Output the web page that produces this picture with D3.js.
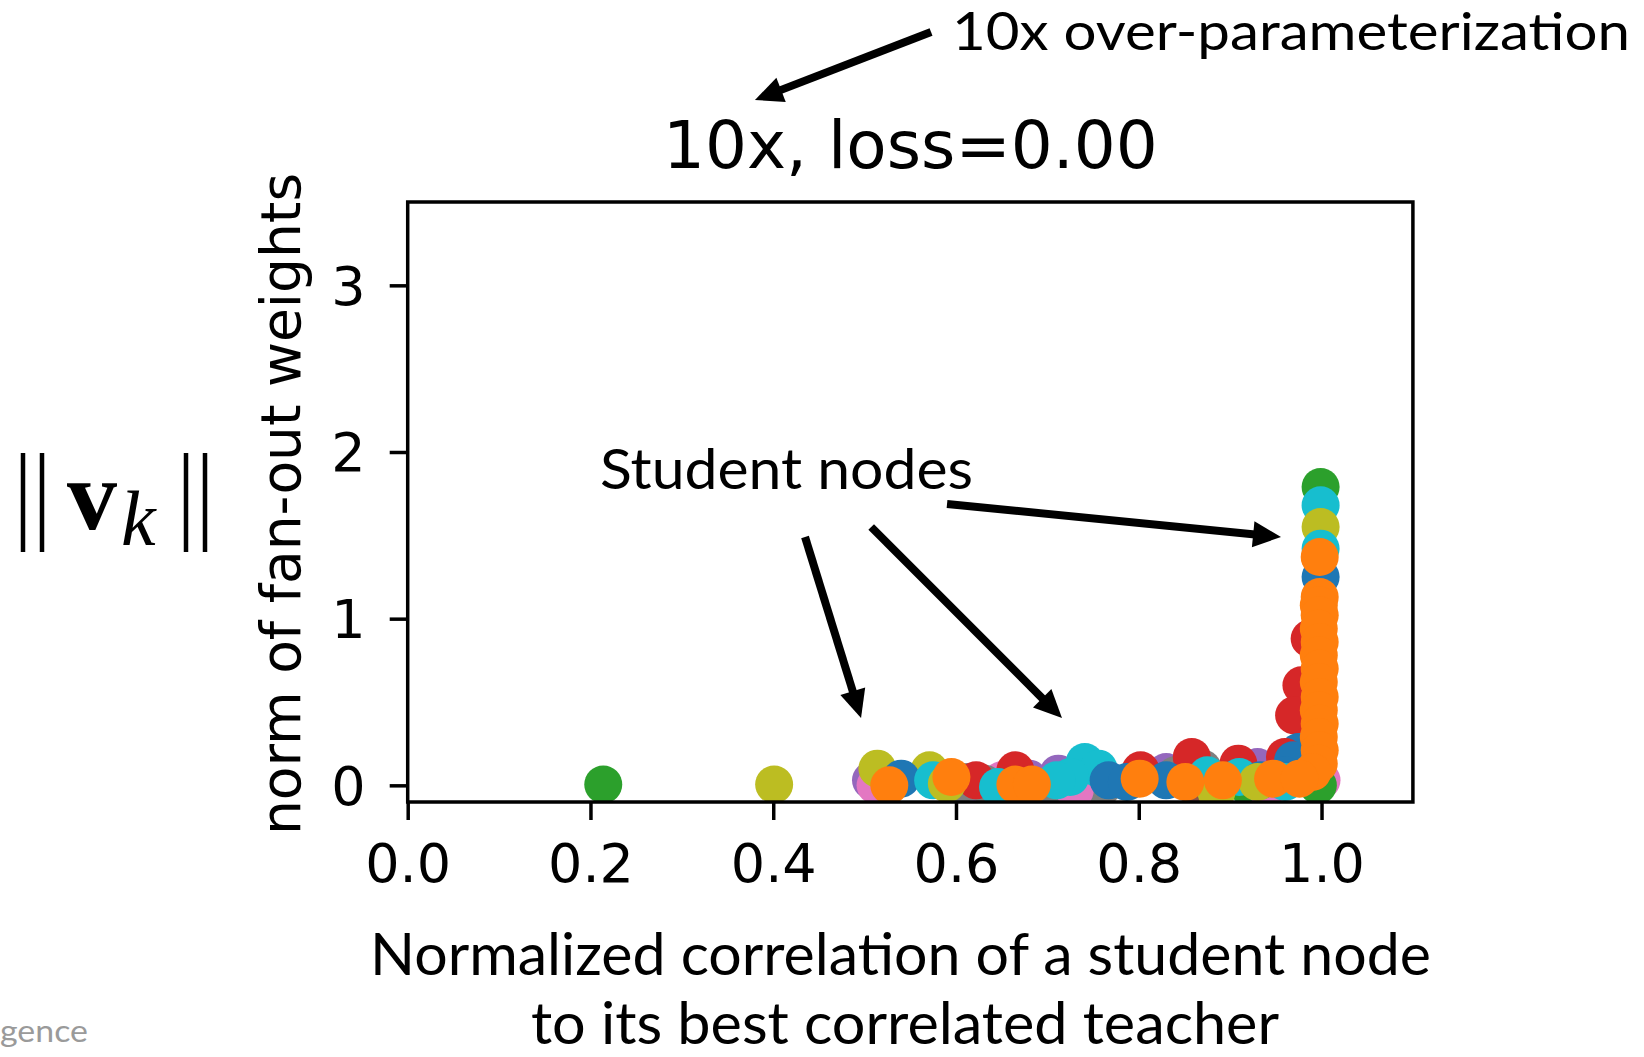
<!DOCTYPE html>
<html>
<head>
<meta charset="utf-8">
<script src="https://cdn.jsdelivr.net/npm/d3@7"></script>
<style>
  html, body { margin: 0; padding: 0; background: #ffffff; }
  svg { display: block; }
</style>
</head>
<body>
<svg id="chart" width="1644" height="1057"></svg>
<script>
// ---- axis ticks ----
const xTickValues = [0.0, 0.2, 0.4, 0.6, 0.8, 1.0];
const yTickValues = [0, 1, 2, 3];

// ---- student nodes: [normalized correlation, norm of fan-out weights] ----
const blueNodes = [[0.540, 0.04], [0.767, 0.03], [0.787, 0.02], [0.830, 0.03], [0.933, 0.03],
  [0.960, 0.06], [0.969, 0.15], [0.975, 0.20], [0.999, 1.25]];
const orangeNodes = [[0.527, 0.00], [0.595, 0.05], [0.665, 0.005], [0.683, 0.005], [0.801, 0.04],
  [0.851, 0.02], [0.892, 0.03], [0.947, 0.04], [0.976, 0.04], [0.990, 0.08], [0.997, 0.13],
  [0.998, 0.21], [0.997, 0.29], [0.998, 0.37], [0.997, 0.45], [0.998, 0.53], [0.997, 0.62],
  [0.998, 0.70], [0.997, 0.78], [0.998, 0.86], [0.997, 0.94], [0.998, 1.02], [0.997, 1.08],
  [0.998, 1.13], [0.998, 1.37]];
const greenNodes = [[0.214, 0.005], [0.920, -0.01], [0.996, 0.00], [0.999, 1.79]];
const redNodes = [[0.622, 0.03], [0.665, 0.09], [0.802, 0.09], [0.858, 0.17], [0.909, 0.13],
  [0.960, 0.17], [0.970, 0.42], [0.978, 0.60], [0.987, 0.88]];
const purpleNodes = [[0.507, 0.03], [0.620, 0.02], [0.680, 0.04], [0.712, 0.07], [0.830, 0.08],
  [0.930, 0.11]];
const brownNodes = [[0.600, 0.00], [0.860, 0.00]];
const pinkNodes = [[0.512, 0.00], [0.650, 0.03], [0.730, -0.03], [0.940, -0.02], [1.000, 0.03]];
const grayNodes = [[0.600, -0.01], [0.613, 0.02], [0.631, 0.01], [0.700, -0.02], [0.735, 0.00],
  [0.760, -0.01], [0.840, 0.06], [0.870, 0.10]];
const oliveNodes = [[0.401, 0.005], [0.514, 0.10], [0.571, 0.09], [0.590, 0.01], [0.885, -0.04],
  [0.930, 0.02], [0.999, 1.55]];
const cyanNodes = [[0.575, 0.03], [0.646, -0.01], [0.710, 0.03], [0.725, 0.05], [0.741, 0.14],
  [0.756, 0.10], [0.875, 0.06], [0.910, 0.05], [0.960, 0.02], [0.999, 1.42], [0.999, 1.68]];

// ---- annotation arrows, in data coordinates: [from, to] ----
const arrowNotes = [
  [[0.5727, 4.520], [0.3800, 4.112]],
  [[0.4348, 1.490], [0.4961, 0.404]],
  [[0.5072, 1.550], [0.7160, 0.404]],
  [[0.5902, 1.688], [0.9557, 1.490]]
];

// ---- series table (tab10 colours); lower layers are drawn underneath ----
const series = [
  { values: purpleNodes, color: '#9467bd', layer: 0 },
  { values: pinkNodes,   color: '#e377c2', layer: 0 },
  { values: brownNodes,  color: '#8c564b', layer: 0 },
  { values: grayNodes,   color: '#7f7f7f', layer: 0 },
  { values: greenNodes,  color: '#2ca02c', layer: 0 },
  { values: blueNodes,   color: '#1f77b4', layer: 1 },
  { values: redNodes,    color: '#d62728', layer: 1 },
  { values: oliveNodes,  color: '#bcbd22', layer: 1 },
  { values: cyanNodes,   color: '#17becf', layer: 1 },
  { values: orangeNodes, color: '#ff7f0e', layer: 2 }
];

// ---- layout ----
const plot = { left: 407.7, right: 1412.9, top: 202, bottom: 802 };
const dotRadius = 19;
const tickFont = '"DejaVu Sans", sans-serif';
const noteFont = 'Lato, "Open Sans", sans-serif';

const svg = d3.select('#chart');

const x = d3.scaleLinear().domain([0, 1.1]).range([plot.left, plot.right]);
const y = d3.scaleLinear().domain([-0.1, 3.5]).range([plot.bottom, plot.top]);

// clip region for the scatter
svg.append('defs').append('clipPath').attr('id', 'plot-clip')
  .append('rect')
  .attr('x', plot.left).attr('y', plot.top)
  .attr('width', plot.right - plot.left).attr('height', plot.bottom - plot.top);

// ---- scatter ----
const nodes = series.flatMap(s => s.values.map(v => ({ cx: v[0], cy: v[1], color: s.color, layer: s.layer })));
nodes.sort((a, b) => (a.layer - b.layer) || (b.cy - a.cy));

svg.append('g').attr('clip-path', 'url(#plot-clip)')
  .selectAll('circle').data(nodes).join('circle')
  .attr('cx', d => x(d.cx))
  .attr('cy', d => y(d.cy))
  .attr('r', dotRadius)
  .attr('fill', d => d.color);

// ---- frame ----
svg.append('rect')
  .attr('x', plot.left).attr('y', plot.top)
  .attr('width', plot.right - plot.left).attr('height', plot.bottom - plot.top)
  .attr('fill', 'none').attr('stroke', '#000').attr('stroke-width', 3.5);

// ---- axes ----
const xAxis = d3.axisBottom(x).tickValues(xTickValues).tickFormat(d3.format('.1f'))
  .tickSize(18).tickPadding(25);
const gx = svg.append('g').attr('transform', `translate(0,${plot.bottom})`).call(xAxis);

const yAxis = d3.axisLeft(y).tickValues(yTickValues).tickFormat(d3.format('d'))
  .tickSize(18).tickPadding(24);
const gy = svg.append('g').attr('transform', `translate(${plot.left},0)`).call(yAxis);

[gx, gy].forEach(g => {
  g.select('.domain').remove();
  g.selectAll('.tick line').attr('stroke', '#000').attr('stroke-width', 3.5);
  g.selectAll('.tick text')
    .attr('fill', '#000')
    .style('font-family', tickFont)
    .style('font-size', '54px');
});
gx.selectAll('.tick text').attr('dy', '0.69em');
gy.selectAll('.tick text').attr('dy', '0.35em');

// ---- title ----
svg.append('text')
  .attr('x', (plot.left + plot.right) / 2).attr('y', 168)
  .attr('text-anchor', 'middle')
  .style('font-family', tickFont).style('font-size', '66px')
  .text('10x, loss=0.00');

// ---- y-axis label ----
svg.append('text')
  .attr('transform', `translate(300,${(plot.top + plot.bottom) / 2 + 2}) rotate(-90)`)
  .attr('text-anchor', 'middle')
  .style('font-family', tickFont).style('font-size', '55px')
  .text('norm of fan-out weights');

// ---- ||v_k|| ----
const bars = [23, 42, 186, 205];
svg.append('g').selectAll('line').data(bars).join('line')
  .attr('x1', d => d).attr('x2', d => d)
  .attr('y1', 453).attr('y2', 552)
  .attr('stroke', '#000').attr('stroke-width', 4.5);
svg.append('text')
  .attr('x', 67).attr('y', 529)
  .style('font-family', '"Liberation Serif", "DejaVu Serif", serif')
  .style('font-weight', 'bold').style('font-size', '100px')
  .text('v');
svg.append('text')
  .attr('x', 121).attr('y', 545)
  .style('font-family', '"Liberation Serif", "DejaVu Serif", serif')
  .style('font-style', 'italic').style('font-size', '78px')
  .text('k');

// ---- annotation text ----
function note(txt, px, py, size, len, color) {
  svg.append('text')
    .attr('x', px).attr('y', py)
    .attr('textLength', len).attr('lengthAdjust', 'spacingAndGlyphs')
    .attr('fill', color || '#000')
    .style('font-family', noteFont).style('font-size', size + 'px')
    .text(txt);
}
note('10x over-parameterization', 952, 50, 52, 678);
note('Student nodes', 600, 489, 57, 373);
note('Normalized correlation of a student node', 370, 975, 59, 1061);
note('to its best correlated teacher', 531, 1044, 59, 748);
note('gence', 0, 1042, 31, 88, '#9a9a9a');

// ---- arrows ----
const headLen = 28, headHalf = 13;
const arrowG = svg.append('g');
arrowNotes.forEach(([from, to]) => {
  const x1 = x(from[0]), y1 = y(from[1]);
  const x2 = x(to[0]), y2 = y(to[1]);
  const len = Math.hypot(x2 - x1, y2 - y1);
  const ux = (x2 - x1) / len, uy = (y2 - y1) / len;
  const bx = x2 - ux * headLen, by = y2 - uy * headLen;
  arrowG.append('line')
    .attr('x1', x1).attr('y1', y1).attr('x2', bx + ux * 2).attr('y2', by + uy * 2)
    .attr('stroke', '#000').attr('stroke-width', 8);
  arrowG.append('path')
    .attr('d', `M${x2},${y2}L${bx - uy * headHalf},${by + ux * headHalf}L${bx + uy * headHalf},${by - ux * headHalf}Z`)
    .attr('fill', '#000');
});
</script>
</body>
</html>
